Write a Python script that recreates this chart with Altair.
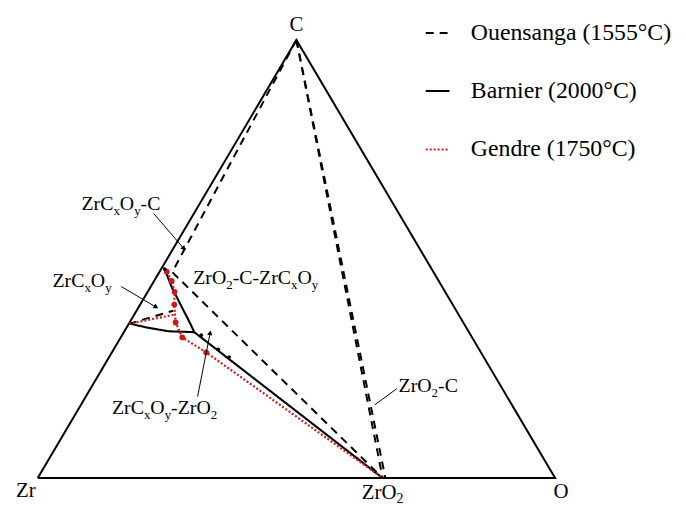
import math
import altair as alt
import pandas as pd

# ---------------- data: compositions as atomic fractions (C, O); Zr = 1 - C - O ----------------
ZR = (0.0, 0.0)
C = (1.0, 0.0)
O = (0.0, 1.0)
ZRO2 = (0.0, 2.0 / 3.0)

triangle = [ZR, C, O, ZR]

series_names = ["Ouensanga (1555°C)", "Barnier (2000°C)", "Gendre (1750°C)"]
series_colors = ["black", "black", "#cc1a1a"]
series_dash = [[8, 6], [1, 0], [2, 2]]
series_width = [2.0, 2.2, 1.0]

ouensanga_lines = [
    [C, (0.470, 0.025), ZRO2],
    [C, ZRO2],
    [C, (0.0, 0.672)],
    [(0.352, 0.0), (0.382, 0.071)],
]
barnier_lines = [
    [(0.477, 0.007), (0.437, 0.040), (0.396, 0.078), (0.351, 0.120), (0.333, 0.136), ZRO2],
    [(0.353, 0.0), (0.344, 0.037), (0.335, 0.085), (0.333, 0.136)],
]
barnier_points = [(0.477, 0.007), (0.326, 0.153), (0.294, 0.202), (0.276, 0.232)]
gendre_points = [(0.471, 0.014), (0.450, 0.034), (0.425, 0.052), (0.396, 0.066),
                 (0.355, 0.089), (0.321, 0.119), (0.287, 0.182)]
gendre_lines = [
    gendre_points + [ZRO2],
    [(0.352, 0.0), (0.373, 0.078)],
]

# leader lines of the field labels: start, end, arrowhead
leaders = [
    ((0.604, -0.078), (0.525, 0.019), True),
    ((0.437, -0.057), (0.391, 0.032), True),
    ((0.186, 0.216), (0.330, 0.168), True),
    ((0.204, 0.592), (0.167, 0.568), False),
]

# labels: anchor composition, pieces (text, subscript?)
field_labels = [
    ((0.611, -0.221), [("ZrC", 0), ("x", 1), ("O", 0), ("y", 1), ("-C", 0)]),
    ((0.443, 0.079), [("ZrO", 0), ("2", 1), ("-C-ZrC", 0), ("x", 1), ("O", 0), ("y", 1)]),
    ((0.437, -0.190), [("ZrC", 0), ("x", 1), ("O", 0), ("y", 1)]),
    ((0.147, 0.070), [("ZrC", 0), ("x", 1), ("O", 0), ("y", 1), ("-ZrO", 0), ("2", 1)]),
    ((0.197, 0.599), [("ZrO", 0), ("2", 1), ("-C", 0)]),
]
corner_labels = [
    (C, [("C", 0)], "center", (0, -9)),
    (ZR, [("Zr", 0)], "right", (-2, 19)),
    (O, [("O", 0)], "center", (6, 20)),
    (ZRO2, [("ZrO", 0), ("2", 1)], "center", (0, 21)),
]

# ---------------- layout ----------------
W, H = 676, 500
KX, KY = 522.0, 442.0          # pixels per unit
X0 = -30.0 / KX
X1 = X0 + W / KX
Y1 = 1.0 + 30.0 / KY
Y0 = Y1 - H / KY
FONT = "Liberation Serif"
ADV = {"Z": 611, "r": 333, "C": 667, "O": 722, "x": 500, "y": 500, "-": 333, "2": 500}


def to_xy(p):
    c, o = p
    return o + c / 2.0, c


def tw(s, size):
    return sum(ADV[ch] for ch in s) * size / 1000.0


# line table
rows = []
seg = 0
for name, groups in zip(series_names, [ouensanga_lines, barnier_lines, gendre_lines]):
    for g in groups:
        for i, p in enumerate(g):
            x, y = to_xy(p)
            rows.append(dict(series=name, seg=seg, i=i, x=x, y=y))
        seg += 1
lines_df = pd.DataFrame(rows)

tri_df = pd.DataFrame([dict(i=i, x=to_xy(p)[0], y=to_xy(p)[1]) for i, p in enumerate(triangle)])
gp_df = pd.DataFrame([dict(x=to_xy(p)[0], y=to_xy(p)[1]) for p in gendre_points])
bp_df = pd.DataFrame([dict(x=to_xy(p)[0], y=to_xy(p)[1]) for p in barnier_points])

lead_rows, head_rows = [], []
for k, (a, b, arrow) in enumerate(leaders):
    for i, p in enumerate([a, b]):
        x, y = to_xy(p)
        lead_rows.append(dict(seg=k, i=i, x=x, y=y))
    if arrow:
        xa, ya = to_xy(a)
        xb, yb = to_xy(b)
        dx = (xb - xa) * KX
        dy = -(yb - ya) * KY
        ang = math.degrees(math.atan2(dx, -dy)) % 360
        head_rows.append(dict(x=xb, y=yb, angle=ang))
lead_df = pd.DataFrame(lead_rows)
head_df = pd.DataFrame(head_rows)

text_rows = []


def add_label(anchor, pieces, align, off, size, sub, drop_px):
    ax, ay = to_xy(anchor)
    total = sum(tw(t, sub if s else size) for t, s in pieces)
    start = {"left": 0, "center": -total / 2, "right": -total}[align]
    cur = start + off[0]
    for t, s in pieces:
        fs = sub if s else size
        drop = drop_px if s else 0
        text_rows.append(dict(text=t, fs=fs, x=ax + cur / KX, y=ay - (off[1] + drop) / KY))
        cur += tw(t, fs)


for anchor, pieces in field_labels:
    add_label(anchor, pieces, "left", (0, 0), 20, 13, 5)
for anchor, pieces, align, off in corner_labels:
    add_label(anchor, pieces, align, off, 21, 14, 4)
text_df = pd.DataFrame(text_rows)

xs = alt.Scale(domain=[X0, X1], nice=False, zero=False)
ys = alt.Scale(domain=[Y0, Y1], nice=False, zero=False)
X = alt.X("x:Q", scale=xs, axis=None)
Y = alt.Y("y:Q", scale=ys, axis=None)

legend = alt.Legend(
    title=None, orient="none", legendX=420, legendY=10, direction="vertical",
    labelFont=FONT, labelFontSize=24, labelColor="black", labelLimit=400,
    symbolType="stroke", symbolSize=576, symbolStrokeWidth=2,
    rowPadding=33, labelOffset=20, padding=0,
)

tri = alt.Chart(tri_df).mark_line(color="black", strokeWidth=2).encode(X, Y, order="i:Q")

lines = alt.Chart(lines_df).mark_line().encode(
    X, Y,
    color=alt.Color("series:N", scale=alt.Scale(domain=series_names, range=series_colors), legend=legend),
    strokeDash=alt.StrokeDash("series:N", scale=alt.Scale(domain=series_names, range=series_dash), legend=legend),
    strokeWidth=alt.StrokeWidth("series:N", scale=alt.Scale(domain=series_names, range=series_width), legend=None),
    detail="seg:N",
    order="i:Q",
)

gpts = alt.Chart(gp_df).mark_circle(color="#cc1a1a", size=34, opacity=1).encode(X, Y)
bpts = alt.Chart(bp_df).mark_circle(color="black", size=14, opacity=1).encode(X, Y)

lead = alt.Chart(lead_df).mark_line(color="black", strokeWidth=1).encode(X, Y, detail="seg:N", order="i:Q")
heads = alt.Chart(head_df).mark_point(shape="triangle", filled=True, color="black", size=30, opacity=1).encode(
    X, Y, angle=alt.Angle("angle:Q", scale=None)
)

texts = alt.Chart(text_df).mark_text(font=FONT, align="left", baseline="alphabetic", color="black").encode(
    X, Y, text="text:N", size=alt.Size("fs:Q", scale=None)
)

chart = alt.layer(tri, lines, gpts, bpts, lead, heads, texts).properties(
    width=W, height=H, padding=0, autosize=alt.AutoSizeParams(type="none"), background="white"
).configure(font=FONT).configure_view(stroke=None).configure_legend(
    labelFont=FONT, labelFontSize=24, labelColor="black"
)

chart.save("out.html", embed_options={"renderer": "svg", "actions": False})
